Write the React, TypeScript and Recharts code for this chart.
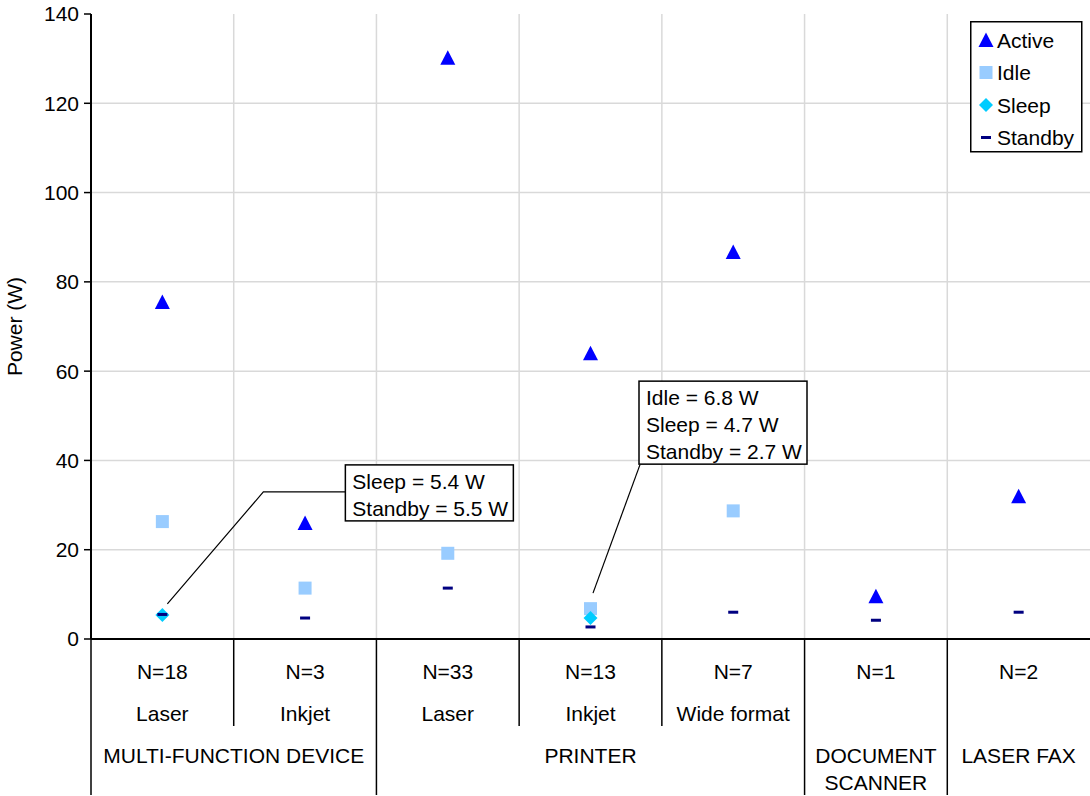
import React from 'react';
import {
  ComposedChart,
  Line,
  XAxis,
  YAxis,
  CartesianGrid,
  Legend,
  ReferenceDot,
} from 'recharts';

// ---- data ----
const categoryIds = ['mfd-laser', 'mfd-inkjet', 'prn-laser', 'prn-inkjet', 'prn-wide', 'scanner', 'fax'];
const sampleSizes = ['N=18', 'N=3', 'N=33', 'N=13', 'N=7', 'N=1', 'N=2'];
const deviceTypes = ['Laser', 'Inkjet', 'Laser', 'Inkjet', 'Wide format', '', ''];
const groupNames = ['MULTI-FUNCTION DEVICE', 'PRINTER', 'DOCUMENT\nSCANNER', 'LASER FAX'];
const groupSpans = [2, 3, 1, 1];

const activeW = [75.5, 26, 130.2, 64, 86.7, 9.6, 32];
const idleW = [26.3, 11.4, 19.2, 6.8, 28.7, null, null];
const sleepW = [5.4, null, null, 4.7, null, null, null];
const standbyW = [5.5, 4.7, 11.4, 2.7, 6.0, 4.2, 6.0];

const yTicks = [0, 20, 40, 60, 80, 100, 120, 140];
const yGridValues = [20, 40, 60, 80, 100, 120];

const data = categoryIds.map((id, i) => ({
  id,
  active: activeW[i],
  idle: idleW[i],
  sleep: sleepW[i],
  standby: standbyW[i],
}));

// ---- layout ----
const WIDTH = 1090;
const HEIGHT = 796;
const Y_AXIS_W = 91;
const X_AXIS_H = 157;
const MARGIN = { top: 14, right: 0, bottom: 0, left: 0 };
const Y_MAX = 140;
const PLOT_W = WIDTH - Y_AXIS_W - MARGIN.left - MARGIN.right;
const PLOT_H = HEIGHT - MARGIN.top - MARGIN.bottom - X_AXIS_H;
const AXIS_Y = MARGIN.top + PLOT_H;
const BAND = PLOT_W / categoryIds.length;
const FONT = '"Liberation Sans", Arial, Helvetica, sans-serif';
const FS = 21;

const COLORS = {
  active: '#0000FF',
  idle: '#99CCFF',
  sleep: '#00CCFF',
  standby: '#000080',
};

// ---- marker shapes ----
const isMissing = (p: any) => p.cy == null || p.value == null || Number.isNaN(p.cy);

const TriangleDot = (p: any) => {
  if (isMissing(p)) return <g key={`a-${p.index}`} />;
  const { cx, cy } = p;
  return (
    <polygon
      key={`a-${p.index}`}
      points={`${cx - 7.5},${cy + 7} ${cx + 7.5},${cy + 7} ${cx},${cy - 7.5}`}
      fill={COLORS.active}
    />
  );
};

const SquareDot = (p: any) => {
  if (isMissing(p)) return <g key={`i-${p.index}`} />;
  return <rect key={`i-${p.index}`} x={p.cx - 6.5} y={p.cy - 6.5} width={13} height={13} fill={COLORS.idle} />;
};

const DiamondDot = (p: any) => {
  if (isMissing(p)) return <g key={`s-${p.index}`} />;
  const { cx, cy } = p;
  return (
    <polygon
      key={`s-${p.index}`}
      points={`${cx},${cy - 7} ${cx + 7},${cy} ${cx},${cy + 7} ${cx - 7},${cy}`}
      fill={COLORS.sleep}
    />
  );
};

const DashDot = (p: any) => {
  if (isMissing(p)) return <g key={`d-${p.index}`} />;
  return <rect key={`d-${p.index}`} x={p.cx - 5} y={p.cy - 1.5} width={10} height={3} fill={COLORS.standby} />;
};

// ---- multi-level category axis ----
const groupStartIndex: number[] = [];
{
  let acc = 0;
  groupSpans.forEach((s) => {
    groupStartIndex.push(acc);
    acc += s;
  });
}

const CategoryTick = (props: any) => {
  const { x, payload } = props;
  const i: number = props.index ?? payload?.index ?? categoryIds.indexOf(payload?.value);
  const left = x - BAND / 2;
  const g = groupStartIndex.indexOf(i);
  const isGroupStart = g >= 0;
  const textProps = { fontFamily: FONT, fontSize: FS, fill: '#000', textAnchor: 'middle' as const };
  return (
    <g>
      <line
        x1={left}
        x2={left}
        y1={AXIS_Y}
        y2={isGroupStart ? HEIGHT - 1 : AXIS_Y + 87}
        stroke="#000"
        strokeWidth={1.5}
      />
      <text x={x} y={AXIS_Y + 40} {...textProps}>
        {sampleSizes[i]}
      </text>
      {deviceTypes[i] ? (
        <text x={x} y={AXIS_Y + 82} {...textProps}>
          {deviceTypes[i]}
        </text>
      ) : null}
      {isGroupStart
        ? groupNames[g].split('\n').map((line, k) => (
            <text key={k} x={left + (groupSpans[g] * BAND) / 2} y={AXIS_Y + 124 + k * 27} {...textProps}>
              {line}
            </text>
          ))
        : null}
    </g>
  );
};

// ---- callouts ----
type CalloutProps = {
  cx: number;
  cy: number;
  lines: string[];
  box: { dx: number; dy: number; w: number; h: number };
  path: [number, number][];
};

const Callout = ({ cx, cy, lines, box, path }: CalloutProps) => {
  if (cx == null || cy == null) return <g />;
  const pts = path.map(([dx, dy]) => `${cx + dx},${cy + dy}`).join(' ');
  const bx = cx + box.dx;
  const by = cy + box.dy;
  return (
    <g>
      <polyline points={pts} fill="none" stroke="#000" strokeWidth={1.2} />
      <rect x={bx} y={by} width={box.w} height={box.h} fill="#fff" stroke="#000" strokeWidth={1.5} />
      {lines.map((t, k) => (
        <text key={k} x={bx + 7} y={by + 24 + k * 27} fontFamily={FONT} fontSize={FS} fill="#000">
          {t}
        </text>
      ))}
    </g>
  );
};

// ---- legend ----
const legendItems = [
  { name: 'Active', key: 'active' },
  { name: 'Idle', key: 'idle' },
  { name: 'Sleep', key: 'sleep' },
  { name: 'Standby', key: 'standby' },
];

const LegendIcon = ({ kind, cx, cy }: { kind: string; cx: number; cy: number }) => {
  if (kind === 'active')
    return <polygon points={`${cx - 7.5},${cy + 7} ${cx + 7.5},${cy + 7} ${cx},${cy - 7.5}`} fill={COLORS.active} />;
  if (kind === 'idle') return <rect x={cx - 6.5} y={cy - 6.5} width={13} height={13} fill={COLORS.idle} />;
  if (kind === 'sleep')
    return <polygon points={`${cx},${cy - 7} ${cx + 7},${cy} ${cx},${cy + 7} ${cx - 7},${cy}`} fill={COLORS.sleep} />;
  return <rect x={cx - 5} y={cy - 1.5} width={10} height={3} fill={COLORS.standby} />;
};

const LegendBox = () => (
  <svg width={113} height={132} style={{ display: 'block' }}>
    <rect x={0.75} y={0.75} width={111} height={130} fill="#fff" stroke="#000" strokeWidth={1.5} />
    {legendItems.map((item, k) => {
      const cy = 19 + k * 32.5;
      return (
        <g key={item.key}>
          <LegendIcon kind={item.key} cx={16} cy={cy} />
          <text x={27} y={cy + 7.5} fontFamily={FONT} fontSize={FS} fill="#000">
            {item.name}
          </text>
        </g>
      );
    })}
  </svg>
);

// grid lines at the round values (no line at the top tick) and at category boundaries
const gridY = (props: any) => {
  const top = props?.offset?.top ?? MARGIN.top;
  const h = props?.offset?.height ?? PLOT_H;
  return yGridValues.map((v) => top + h * (1 - v / Y_MAX));
};

const gridX = (props: any) => {
  const left = props?.offset?.left ?? Y_AXIS_W;
  const w = props?.offset?.width ?? PLOT_W;
  const step = w / categoryIds.length;
  return categoryIds.slice(1).map((_, k) => left + (k + 1) * step);
};

export default function App() {
  return (
    <div style={{ position: 'absolute', left: 0, top: 0, width: WIDTH, height: HEIGHT, background: '#fff', fontFamily: FONT }}>
      <ComposedChart width={WIDTH} height={HEIGHT} data={data} margin={MARGIN}>
        <CartesianGrid
          stroke="#d9d9d9"
          strokeWidth={1.5}
          horizontalCoordinatesGenerator={gridY}
          verticalCoordinatesGenerator={gridX}
        />
        <XAxis
          dataKey="id"
          type="category"
          scale="band"
          height={X_AXIS_H}
          interval={0}
          tickLine={false}
          tickSize={0}
          tickMargin={0}
          axisLine={{ stroke: '#000', strokeWidth: 2 }}
          tick={<CategoryTick />}
        />
        <YAxis
          type="number"
          domain={[0, Y_MAX]}
          ticks={yTicks}
          width={Y_AXIS_W}
          tickSize={7}
          tickMargin={5}
          axisLine={{ stroke: '#000', strokeWidth: 2 }}
          tickLine={{ stroke: '#000', strokeWidth: 1.5 }}
          tick={{ fill: '#000', fontSize: FS, fontFamily: FONT }}
          label={{
            content: ({ viewBox }: any) => {
              const cx = 14;
              const cy = (viewBox?.y ?? MARGIN.top) + (viewBox?.height ?? PLOT_H) / 2;
              return (
                <text
                  x={cx}
                  y={cy}
                  transform={`rotate(-90 ${cx} ${cy})`}
                  textAnchor="middle"
                  dominantBaseline="central"
                  fontFamily={FONT}
                  fontSize={FS}
                  fill="#000"
                >
                  Power (W)
                </text>
              );
            },
          }}
        />
        <Legend
          layout="horizontal"
          align="center"
          verticalAlign="middle"
          content={<LegendBox />}
          wrapperStyle={{ left: 970, top: 21, width: 113, height: 132 }}
        />
        <Line dataKey="active" stroke="none" dot={TriangleDot} activeDot={false} isAnimationActive={false} legendType="none" />
        <Line dataKey="idle" stroke="none" dot={SquareDot} activeDot={false} isAnimationActive={false} legendType="none" />
        <Line dataKey="sleep" stroke="none" dot={DiamondDot} activeDot={false} isAnimationActive={false} legendType="none" />
        <Line dataKey="standby" stroke="none" dot={DashDot} activeDot={false} isAnimationActive={false} legendType="none" />
        <ReferenceDot
          x={categoryIds[0]}
          y={sleepW[0] as number}
          r={1}
          ifOverflow="visible"
          shape={(p: any) => (
            <Callout
              cx={p.cx}
              cy={p.cy}
              lines={[`Sleep = ${sleepW[0]} W`, `Standby = ${standbyW[0]} W`]}
              box={{ dx: 183, dy: -150, w: 168, h: 56 }}
              path={[
                [183, -123],
                [101, -123],
                [5, -11],
              ]}
            />
          )}
        />
        <ReferenceDot
          x={categoryIds[3]}
          y={idleW[3] as number}
          r={1}
          ifOverflow="visible"
          shape={(p: any) => (
            <Callout
              cx={p.cx}
              cy={p.cy}
              lines={[`Idle = ${idleW[3]} W`, `Sleep = ${sleepW[3]} W`, `Standby = ${standbyW[3]} W`]}
              box={{ dx: 48.5, dy: -227.5, w: 168, h: 83 }}
              path={[
                [49.5, -144],
                [2.5, -15.5],
              ]}
            />
          )}
        />
      </ComposedChart>
    </div>
  );
}
